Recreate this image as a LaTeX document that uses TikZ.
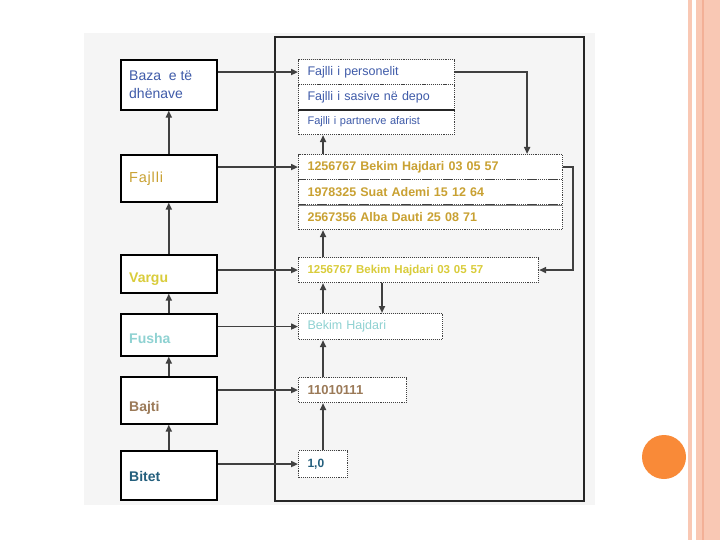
\documentclass[tikz,border=0pt]{standalone}
\usepackage{fontspec}
\setmainfont{Liberation Sans}
\usepackage{tikz}
\usetikzlibrary{arrows.meta}

\definecolor{dbblue}{HTML}{3F5BA9}
\definecolor{dbgold}{HTML}{C9A132}
\definecolor{dbyellow}{HTML}{D9CC3A}
\definecolor{dbcyan}{HTML}{8FD2D2}
\definecolor{dbbrown}{HTML}{9B7A58}
\definecolor{dbteal}{HTML}{245F7D}
\definecolor{stripe}{HTML}{F9C8B4}
\definecolor{stripedark}{HTML}{F3B097}
\definecolor{slidedot}{HTML}{F98A38}

\tikzset{
  levelbox/.style={draw=black, line width=1.6pt, fill=white, anchor=north west, minimum width=96pt, inner sep=0pt},
  levellabel/.style={anchor=west, inner sep=0pt, align=left, font=\fontsize{14}{18}\selectfont},
  cell/.style={draw=black!75, densely dotted, line width=1.1pt, fill=white, anchor=north west, inner xsep=9pt, inner ysep=0pt, align=left},
  link/.style={draw=black!75, line width=1.8pt, -{Triangle[length=7pt,width=6pt]}}
}

\begin{document}
\begin{tikzpicture}[x=1pt,y=-1pt]
      \useasboundingbox (0,0) rectangle (720,540);
      \fill[white] (0,0) rectangle (720,540);
      % slide border on the right
      \fill[stripe] (688,0) rectangle (692,540);
      \fill[stripe] (696,0) rectangle (720,540);
      \draw[stripedark, line width=1.5pt] (703,0) -- (703,540);
      \fill[slidedot] (664,457) circle (22);
      % picture background and frame
      \fill[black!4] (84,33) rectangle (595,505);
      \draw[black!85, line width=1.5pt] (275,37) rectangle (584,501);

      % levels on the left
      \node[levelbox, minimum height=50pt] (baza)   at (120,59)  {};
      \node[levelbox, minimum height=47pt] (fajlli) at (120,154) {};
      \node[levelbox, minimum height=38pt] (vargu)  at (120,254) {};
      \node[levelbox, minimum height=42pt] (fusha)  at (120,313) {};
      \node[levelbox, minimum height=47pt] (bajti)  at (120,376) {};
      \node[levelbox, minimum height=49pt] (bitet)  at (120,450) {};
      \node[levellabel, text=dbblue]  (lbaza)   at (129,85)  {Baza\ \ e të\\dhënave};
      \node[levellabel, text=dbgold, font=\fontsize{14.5}{18}\selectfont] (lfajlli) at (129,179) {F\kern.8pt a\kern.8pt j\kern.8pt l\kern.8pt l\kern.8pt i};
      \node[levellabel, text=dbyellow, font=\fontsize{14}{18}\bfseries] (lvargu) at (129,279) {Vargu};
      \node[levellabel, text=dbcyan,  font=\fontsize{14}{18}\bfseries] (lfusha) at (129,338) {Fusha};
      \node[levellabel, text=dbbrown, font=\fontsize{14}{18}\bfseries] (lbajti) at (129,408) {Bajti};
      \node[levellabel, text=dbteal,  font=\fontsize{14}{18}\bfseries] (lbitet) at (129,476) {Bitet};

      % examples on the right
      \node[cell, text width=138pt, minimum height=25pt, text=dbblue, font=\fontsize{12.5}{14}\selectfont] (fpers) at (298,59)  {Fajlli i personelit};
      \node[cell, text width=138pt, minimum height=25pt, text=dbblue, font=\fontsize{12.5}{14}\selectfont] (fsasi) at (298,84)  {Fajlli i sasive në depo};
      \node[cell, text width=138pt, minimum height=25pt, text=dbblue, font=\fontsize{11}{13}\selectfont]   (fpart) at (298,109) {Fajlli i partnerve afarist};
      \node[cell, text width=246pt, minimum height=25pt, text=dbgold, font=\fontsize{12.5}{14}\bfseries] (rec1) at (298,154) {1256767 Bekim Hajdari 03 05 57};
      \node[cell, text width=246pt, minimum height=25pt, text=dbgold, font=\fontsize{12.5}{14}\bfseries] (rec2) at (298,179) {1978325 Suat Ademi 15 12 64};
      \node[cell, text width=246pt, minimum height=25pt, text=dbgold, font=\fontsize{12.5}{14}\bfseries] (rec3) at (298,204) {2567356 Alba Dauti 25 08 71};
      \node[cell, text width=222pt, minimum height=25pt, text=dbyellow, font=\fontsize{11.5}{13}\bfseries] (rvargu) at (298,257) {1256767 Bekim Hajdari 03 05 57};
      \node[cell, text width=126pt, minimum height=26pt, text=dbcyan,  font=\fontsize{12.5}{14}\selectfont] (rfusha) at (298,313) {Bekim Hajdari};
      \node[cell, text width=90pt,  minimum height=25pt, text=dbbrown, font=\fontsize{13}{14}\bfseries]    (rbajti) at (298,377) {11010111};
      \node[cell, text width=31pt,  minimum height=27pt, text=dbteal,  font=\fontsize{12}{14}\bfseries]    (rbitet) at (298,450) {1,0};
      \draw[black!85, line width=1.3pt] (fsasi.south west) -- (fsasi.south east);
      \draw[black!50, line width=0.9pt] (rec2.south west) -- (rec2.south east);

      % upward links
      \draw[link] (fajlli) -- (baza);
      \draw[link] (vargu) -- (fajlli);
      \draw[link] (fusha) -- (vargu);
      \draw[link] (bajti) -- (fusha);
      \draw[link] (bitet) -- (bajti);
      \draw[link] (rbitet.north) -- (rbitet.north |- rbajti.south);
      \draw[link] (rbajti.north -| rbitet.north) -- (rbitet.north |- rfusha.south);
      \draw[link] (rfusha.north -| rbitet.north) -- (rbitet.north |- rvargu.south);
      \draw[link] (rvargu.north -| rbitet.north) -- (rbitet.north |- rec3.south);
      \draw[link] (rec1.north -| rbitet.north) -- (rbitet.north |- fpart.south);

      % level to example
      \draw[link] (baza.east |- fpers.west) -- (fpers.west);
      \draw[link] (fajlli.east |- rec1.west) -- (rec1.west);
      \draw[link] (vargu.east |- rvargu.west) -- (rvargu.west);
      \draw[link] (fusha.east |- rfusha.west) -- (rfusha.west);
      \draw[link] (bajti.east |- rbajti.west) -- (rbajti.west);
      \draw[link] (bitet.east |- rbitet.west) -- (rbitet.west);

      % file to record to string to field
      \draw[link] (fpers.east) -| ([xshift=-36pt]rec1.north east);
      \draw[link] (rec1.east) -- ++(10,0) |- (rvargu.east);
      \draw[link] ([xshift=84pt]rvargu.south west) -- ([xshift=84pt]rfusha.north west);
\end{tikzpicture}
\end{document}
